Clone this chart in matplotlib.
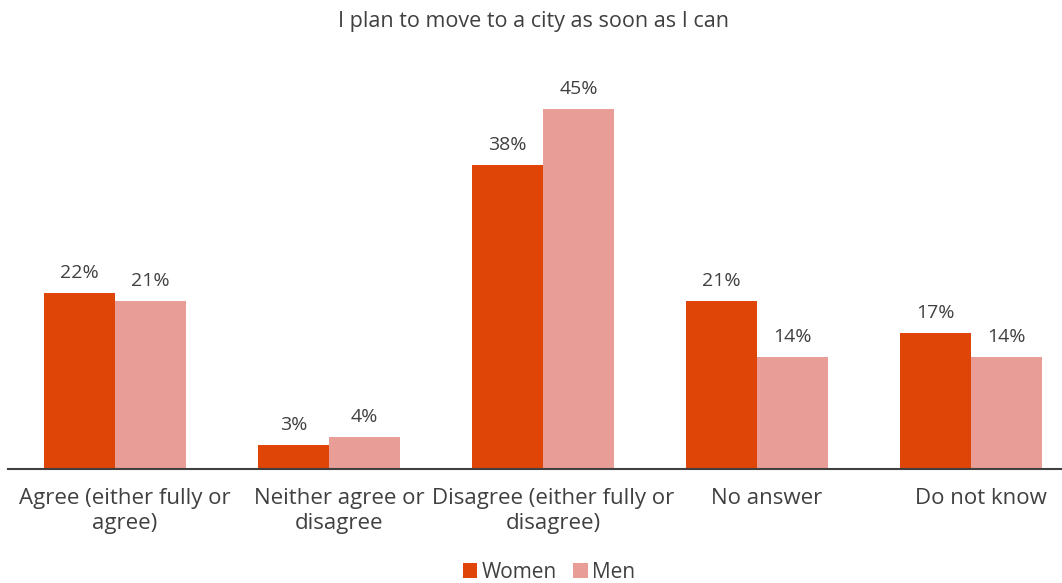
import matplotlib
matplotlib.use("Agg")
import matplotlib.pyplot as plt
import matplotlib.transforms as mtransforms
import numpy as np

categories = ["Agree (either fully or\nagree)", "Neither agree or\ndisagree",
              "Disagree (either fully or\ndisagree)", "No answer", "Do not know"]
women = [22, 3, 38, 21, 17]
men = [21, 4, 45, 14, 14]
title = "I plan to move to a city as soon as I can"

plt.rcParams['font.family'] = ['Open Sans', 'DejaVu Sans']
TXT = '#404040'
C_W = '#DE4506'
C_M = '#E89E96'

fig = plt.figure(figsize=(10.62, 5.83), dpi=100)
ax = fig.add_axes([8/1062, (583-469)/583, 1054/1062, 400/583])
x = np.arange(len(categories))
bw = 0.332
bw_bars = ax.bar(x - bw/2, women, bw, color=C_W, label='Women')
bm_bars = ax.bar(x + bw/2, men, bw, color=C_M, label='Men')
for bars, vals in ((bw_bars, women), (bm_bars, men)):
    for b, v in zip(bars, vals):
        ax.text(b.get_x() + b.get_width()/2, v + 1.4, f"{v}%", ha='center', va='bottom',
                fontsize=14, color=TXT)
ax.set_xlim(-0.5, 4.425)
ax.set_ylim(0, 50)
for s in ['top', 'right', 'left']:
    ax.spines[s].set_visible(False)
ax.spines['bottom'].set_color('#404040')
ax.spines['bottom'].set_linewidth(1.5)
ax.set_yticks([])
ax.set_xticks(x)
ax.set_xticklabels(categories, fontsize=16, color=TXT, linespacing=1.2)
ax.tick_params(axis='x', length=0, pad=14)
offset = mtransforms.ScaledTranslation(10/100, 0, fig.dpi_scale_trans)
for lbl in ax.get_xticklabels():
    lbl.set_transform(lbl.get_transform() + offset)
fig.text(533/1062, 1 - 22/583, title, ha='center', va='center', fontsize=15.5, color=TXT)
fig.legend(handles=[bw_bars, bm_bars], labels=['Women', 'Men'], loc='center',
           bbox_to_anchor=(549/1062, 1 - 572/583), ncol=2, frameon=False, fontsize=15,
           handlelength=0.7, handleheight=0.7, handletextpad=0.2, columnspacing=0.8,
           labelcolor=TXT)
fig.savefig('out.png', dpi=100)
